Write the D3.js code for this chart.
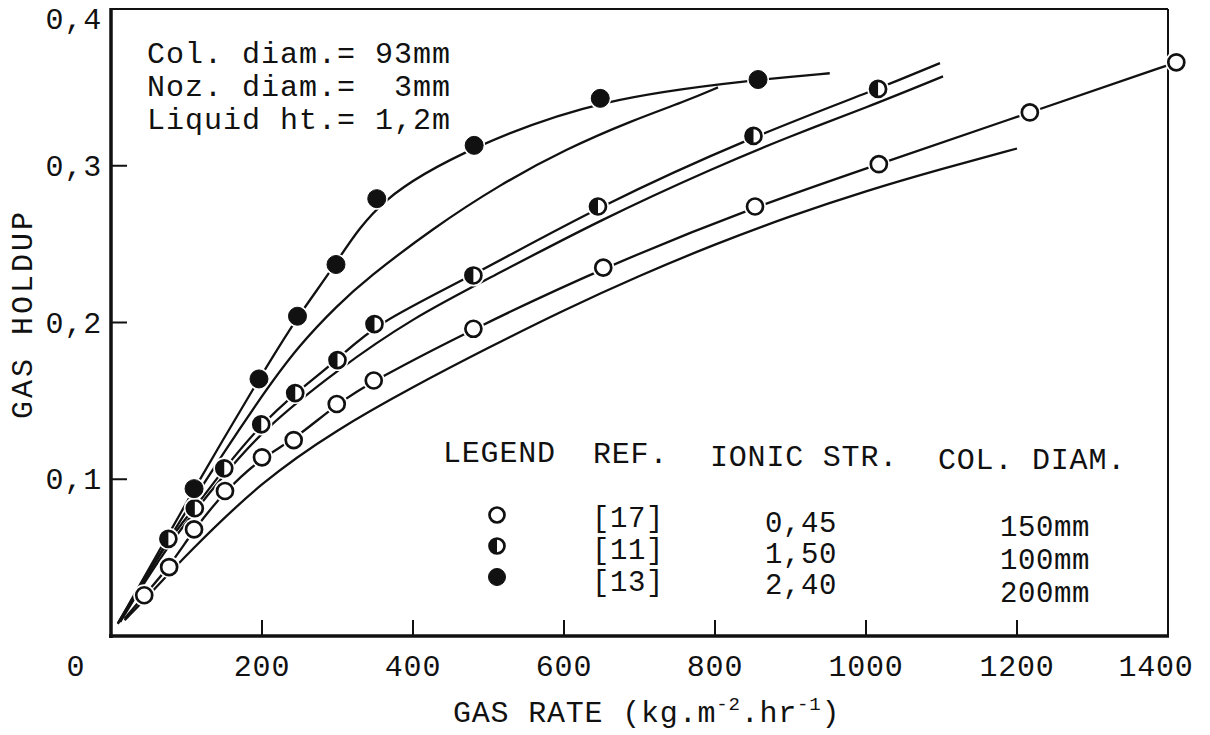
<!DOCTYPE html>
<html><head><meta charset="utf-8">
<script src="https://cdn.jsdelivr.net/npm/d3@7"></script>
<style>
html,body{margin:0;padding:0;background:#fff;}
svg{display:block;}
text{font-family:"Liberation Mono","Courier New",monospace;fill:#111;white-space:pre;}
</style></head><body>
<svg id="c" width="1210" height="735" xml:space="preserve"></svg>
<script>
// ---------- data ----------
const xTicks = [200, 400, 600, 800, 1000, 1200];
const xTickLabels = ["0", "200", "400", "600", "800", "1000", "1200", "1400"];
const xLabelValues = [0, 200, 400, 600, 800, 1000, 1200, 1400];
const yTicks = [0.1, 0.2, 0.3];
const yLabelValues = [0.1, 0.2, 0.3, 0.4];
const yTickLabels = ["0,1", "0,2", "0,3", "0,4"];

// series [17] open circles
const openX = [44, 77, 110, 151, 200, 242, 299, 348, 480, 652, 853, 1017, 1217, 1411];
const openY = [0.026, 0.044, 0.068, 0.0925, 0.114, 0.125, 0.148, 0.163, 0.196, 0.235, 0.274, 0.301, 0.334, 0.366];
// series [11] half-filled circles
const halfX = [76, 111, 150, 199, 244, 300, 349, 480, 645, 851, 1016];
const halfY = [0.062, 0.0815, 0.107, 0.135, 0.155, 0.176, 0.199, 0.230, 0.274, 0.319, 0.349];
// series [13] filled circles
const fullX = [110, 196, 247, 298, 352, 481, 648, 857];
const fullY = [0.094, 0.164, 0.204, 0.237, 0.279, 0.313, 0.343, 0.355];

// start / end of the line drawn through each series
const openFitStart = [18, 0.011], openFitEnd = [1411, 0.366];
const halfFitStart = [12, 0.009], halfFitEnd = [1098, 0.3655];
const fullFitStart = [9, 0.0077], fullFitEnd = [952, 0.359];

// lower (predicted) curves
const openLowX = [18, 50, 100, 200, 300, 400, 500, 600, 700, 800, 900, 1000, 1100, 1200];
const openLowY = [0.010, 0.026, 0.052, 0.099, 0.132, 0.159, 0.184, 0.208, 0.230, 0.250, 0.268, 0.284, 0.298, 0.311];
const halfLowX = [12, 76, 150, 200, 300, 400, 500, 650, 800, 900, 1000, 1102];
const halfLowY = [0.009, 0.059, 0.103, 0.131, 0.170, 0.203, 0.228, 0.266, 0.299, 0.319, 0.337, 0.357];
const fullLowX = [9, 100, 200, 250, 300, 339, 426, 515, 604, 691, 760, 804];
const fullLowY = [0.008, 0.081, 0.154, 0.186, 0.211, 0.228, 0.260, 0.288, 0.311, 0.329, 0.341, 0.350];

const infoLines = ["Col. diam.= 93mm", "Noz. diam.=  3mm", "Liquid ht.= 1,2m"];
const legendHeader = ["LEGEND", "REF.", "IONIC STR.", "COL. DIAM."];
const legendRefs = ["[17]", "[11]", "[13]"];
const legendIonic = ["0,45", "1,50", "2,40"];
const legendDiam = ["150mm", "100mm", "200mm"];
const legendKinds = ["open", "half", "full"];

// ---------- drawing ----------
const svg = d3.select("#c");
const x = d3.scaleLinear().domain([0, 1400]).range([111, 1168]);
const y = d3.scaleLinear().domain([0, 0.4]).range([636, 9]);
const ink = "#111";

// frame
svg.append("line").attr("x1", x(0)).attr("x2", x(1400)).attr("y1", y(0.4)).attr("y2", y(0.4))
  .attr("stroke", ink).attr("stroke-width", 2);
svg.append("line").attr("x1", x(1400)).attr("x2", x(1400)).attr("y1", y(0.4)).attr("y2", y(0))
  .attr("stroke", ink).attr("stroke-width", 2);
svg.append("line").attr("x1", x(0)).attr("x2", x(0)).attr("y1", y(0.4) - 1).attr("y2", y(0) + 2)
  .attr("stroke", ink).attr("stroke-width", 3.5);
svg.append("line").attr("x1", x(0) - 2).attr("x2", x(1400) + 1).attr("y1", y(0)).attr("y2", y(0))
  .attr("stroke", ink).attr("stroke-width", 3.5);

// ticks (inside)
svg.selectAll(".xt").data(xTicks).enter().append("line")
  .attr("x1", d => x(d)).attr("x2", d => x(d)).attr("y1", y(0)).attr("y2", y(0) - 16)
  .attr("stroke", ink).attr("stroke-width", 2);
svg.selectAll(".yt").data(yTicks).enter().append("line")
  .attr("x1", x(0)).attr("x2", x(0) + 16).attr("y1", d => y(d)).attr("y2", d => y(d))
  .attr("stroke", ink).attr("stroke-width", 2);

// tick labels
svg.selectAll(".xl").data(xLabelValues).enter().append("text")
  .attr("x", d => d === 0 ? 76 : (d === 1400 ? x(d) - 12 : x(d))).attr("y", 676)
  .attr("text-anchor", "middle").attr("font-size", 30).attr("letter-spacing", 0.8)
  .text((d, i) => xTickLabels[i]);
svg.selectAll(".yl").data(yLabelValues).enter().append("text")
  .attr("x", 102).attr("y", d => Math.max(y(d), 19) + 10)
  .attr("text-anchor", "end").attr("font-size", 30).attr("letter-spacing", 0.8)
  .text((d, i) => yTickLabels[i]);

// axis titles
const xt = svg.append("text").attr("x", 453).attr("y", 722).attr("font-size", 30).attr("letter-spacing", 0.8);
xt.append("tspan").text("GAS RATE (kg.m");
xt.append("tspan").attr("font-size", 19).attr("dy", -12).text("-2");
xt.append("tspan").attr("dy", 12).text(".hr");
xt.append("tspan").attr("font-size", 19).attr("dy", -12).text("-1");
xt.append("tspan").attr("dy", 12).text(")");

svg.append("text").attr("transform", "translate(32,314) rotate(-90)")
  .attr("text-anchor", "middle").attr("font-size", 30).attr("letter-spacing", 3).text("GAS HOLDUP");

// info text
svg.selectAll(".info").data(infoLines).enter().append("text")
  .attr("x", 147).attr("y", (d, i) => 63 + i * 33).attr("font-size", 30).attr("letter-spacing", 1)
  .text(d => d);

// curves
const zip = (xs, ys) => xs.map((v, i) => [v, ys[i]]);
const lowLine = d3.line().x(d => x(d[0])).y(d => y(d[1])).curve(d3.curveBasis);
const fitLine = d3.line().x(d => x(d[0])).y(d => y(d[1])).curve(d3.curveBasis);
const g = svg.append("g").attr("fill", "none").attr("stroke", ink).attr("stroke-width", 2.3);
g.append("path").attr("d", lowLine(zip(openLowX, openLowY)));
g.append("path").attr("d", lowLine(zip(halfLowX, halfLowY)));
g.append("path").attr("d", lowLine(zip(fullLowX, fullLowY)));

function marker(sel, cx, cy, kind, r) {
  if (kind === "open") {
    sel.append("circle").attr("cx", cx).attr("cy", cy).attr("r", r)
      .attr("fill", "#fff").attr("stroke", ink).attr("stroke-width", 2.7);
  } else if (kind === "full") {
    sel.append("circle").attr("cx", cx).attr("cy", cy).attr("r", r + 1)
      .attr("fill", ink).attr("stroke", ink).attr("stroke-width", 1);
  } else {
    sel.append("circle").attr("cx", cx).attr("cy", cy).attr("r", r)
      .attr("fill", "#fff").attr("stroke", ink).attr("stroke-width", 2.7);
    sel.append("path")
      .attr("d", `M${cx},${cy - r} A${r},${r} 0 0 0 ${cx},${cy + r} Z`)
      .attr("fill", ink);
  }
}

function series(xs, ys, start, end, kind) {
  const pts = [start].concat(zip(xs, ys));
  if (end[0] > xs[xs.length - 1]) pts.push(end);
  g.append("path").attr("d", fitLine(pts));
  const m = svg.append("g");
  xs.forEach((v, i) => {
    m.append("circle").attr("cx", x(v)).attr("cy", y(ys[i])).attr("r", 11).attr("fill", "#fff");
  });
  xs.forEach((v, i) => marker(m, x(v), y(ys[i]), kind, 8));
}
series(openX, openY, openFitStart, openFitEnd, "open");
series(halfX, halfY, halfFitStart, halfFitEnd, "half");
series(fullX, fullY, fullFitStart, fullFitEnd, "full");

// legend
const hx = [443, 593, 710, 938], hy = [462, 463, 466, 469];
legendHeader.forEach((t, i) => svg.append("text").attr("x", hx[i]).attr("y", hy[i])
  .attr("font-size", 30).attr("letter-spacing", 0.8).text(t));
const lg = svg.append("g");
legendKinds.forEach((k, i) => marker(lg, 497, 515 + i * 31, k, 7.5));
legendRefs.forEach((t, i) => svg.append("text").attr("x", 592).attr("y", 527 + i * 32)
  .attr("font-size", 29).attr("letter-spacing", 0.6).text(t));
legendIonic.forEach((t, i) => svg.append("text").attr("x", 765).attr("y", 532 + i * 31)
  .attr("font-size", 29).attr("letter-spacing", 0.6).text(t));
legendDiam.forEach((t, i) => svg.append("text").attr("x", 1000).attr("y", 536 + i * 33)
  .attr("font-size", 29).attr("letter-spacing", 0.6).text(t));
</script>
</body></html>
